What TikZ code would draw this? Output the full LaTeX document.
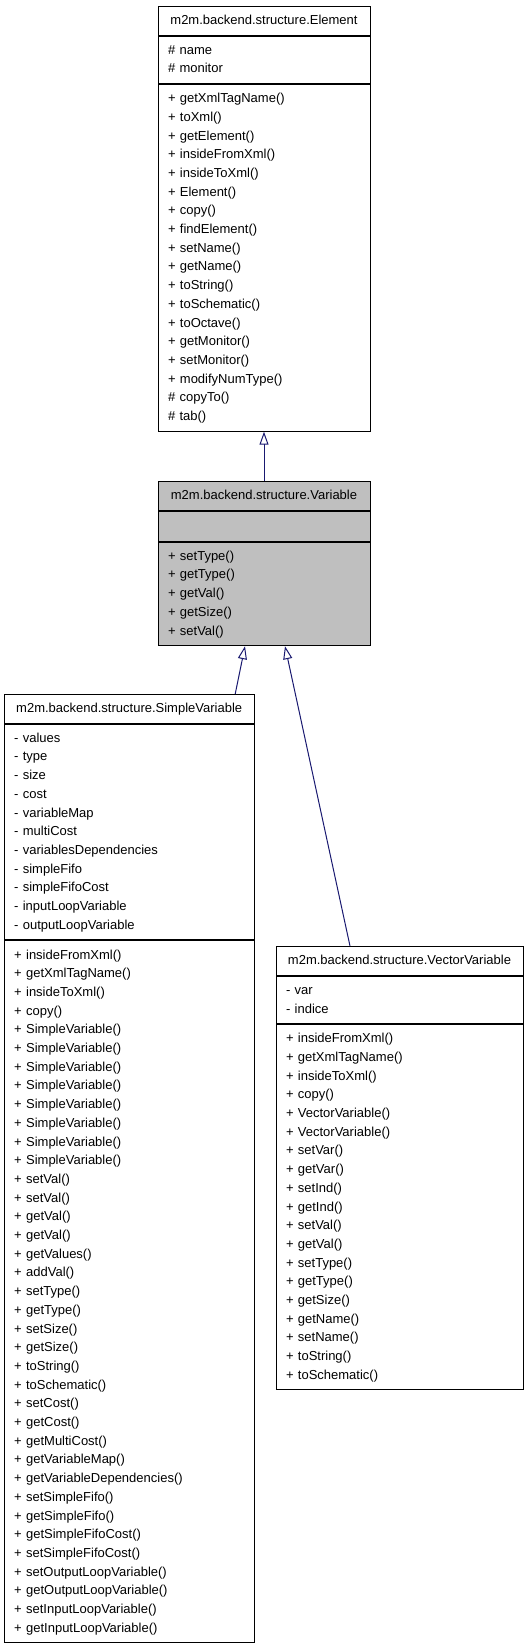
\documentclass[tikz,border=0pt]{standalone}
\usepackage{fontspec}
\setmainfont{Liberation Sans}
\usepackage{xcolor}
\usepackage{tikz}
\usetikzlibrary{positioning,arrows.meta}
\definecolor{edgeblue}{HTML}{191970}
\definecolor{clsgray}{HTML}{BFBFBF}

\begin{document}
\begin{tikzpicture}[x=1bp,y=1bp,
  node distance=0pt,
  cpt/.style={draw,line width=1bp,inner xsep=10bp,inner ysep=5bp,align=left,text width=#1,
    font=\fontsize{13bp}{18.7bp}\selectfont,
    execute at begin node=\strut,execute at end node=\strut},
  ttl/.style={cpt=#1,align=center,anchor=north},
  cur/.style={fill=clsgray},
  inh/.style={draw=edgeblue,line width=1bp,-{Triangle[open,length=13bp,width=9bp]}}]
\useasboundingbox (0,0) rectangle (528,-1648);
% base class
\node[ttl=192bp] (elemT) at (264,-6) {m2m.backend.structure.Element};
\node[cpt=192bp,below=of elemT] (elemA) {\# name\\\# monitor};
\node[cpt=192bp,below=of elemA] (elemM) {+ getXmlTagName()\\+ toXml()\\+ getElement()\\+ insideFromXml()\\+ insideToXml()\\+ Element()\\+ copy()\\+ findElement()\\+ setName()\\+ getName()\\+ toString()\\+ toSchematic()\\+ toOctave()\\+ getMonitor()\\+ setMonitor()\\+ modifyNumType()\\\# copyTo()\\\# tab()};
% current class
\node[ttl=192bp,cur] (varT) at (264,-481) {m2m.backend.structure.Variable};
\node[cpt=192bp,cur,below=of varT,minimum height=30bp] (varA) {};
\node[cpt=192bp,cur,below=of varA] (varM) {+ setType()\\+ getType()\\+ getVal()\\+ getSize()\\+ setVal()};
% derived classes
\node[ttl=230bp] (simT) at (129.2,-694) {m2m.backend.structure.SimpleVariable};
\node[cpt=230bp,below=of simT] (simA) {- values\\- type\\- size\\- cost\\- variableMap\\- multiCost\\- variablesDependencies\\- simpleFifo\\- simpleFifoCost\\- inputLoopVariable\\- outputLoopVariable};
\node[cpt=230bp,below=of simA] (simM) {+ insideFromXml()\\+ getXmlTagName()\\+ insideToXml()\\+ copy()\\+ SimpleVariable()\\+ SimpleVariable()\\+ SimpleVariable()\\+ SimpleVariable()\\+ SimpleVariable()\\+ SimpleVariable()\\+ SimpleVariable()\\+ SimpleVariable()\\+ setVal()\\+ setVal()\\+ getVal()\\+ getVal()\\+ getValues()\\+ addVal()\\+ setType()\\+ getType()\\+ setSize()\\+ getSize()\\+ toString()\\+ toSchematic()\\+ setCost()\\+ getCost()\\+ getMultiCost()\\+ getVariableMap()\\+ getVariableDependencies()\\+ setSimpleFifo()\\+ getSimpleFifo()\\+ getSimpleFifoCost()\\+ setSimpleFifoCost()\\+ setOutputLoopVariable()\\+ getOutputLoopVariable()\\+ setInputLoopVariable()\\+ getInputLoopVariable()};
\node[ttl=227bp] (vecT) at (399.5,-946) {m2m.backend.structure.VectorVariable};
\node[cpt=227bp,below=of vecT] (vecA) {- var\\- indice};
\node[cpt=227bp,below=of vecA] (vecM) {+ insideFromXml()\\+ getXmlTagName()\\+ insideToXml()\\+ copy()\\+ VectorVariable()\\+ VectorVariable()\\+ setVar()\\+ getVar()\\+ setInd()\\+ getInd()\\+ setVal()\\+ getVal()\\+ setType()\\+ getType()\\+ getSize()\\+ getName()\\+ setName()\\+ toString()\\+ toSchematic()};
% inheritance
\draw[inh] (varT.north) -- (elemM.south);
\draw[inh] ([xshift=106bp]simT.north) -- ([xshift=-19bp]varM.south);
\draw[inh] ([xshift=-49.5bp]vecT.north) -- ([xshift=21bp]varM.south);
\end{tikzpicture}
\end{document}
